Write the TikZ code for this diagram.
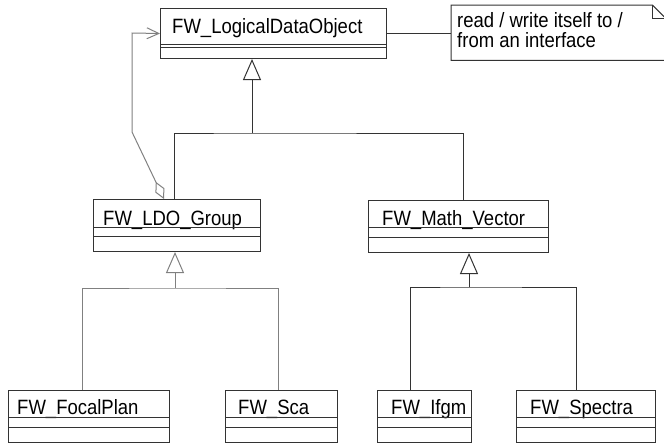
\documentclass[tikz,border=0pt]{standalone}
\usepackage{fontspec}
\usepackage{graphicx}
\setmainfont{Liberation Sans}
\usetikzlibrary{arrows.meta,calc}
% class and note texts are set slightly taller than the plain font
\newcommand\umltext[1]{\scalebox{1}[1.12]{#1}}
\begin{document}
\begin{tikzpicture}[x=1pt,y=-1pt,
  ink/.style={draw=black!80, line width=1pt},
  pale/.style={draw=black!50, line width=1pt},
  classbox/.style={ink, rectangle, inner sep=0pt, anchor=north west, minimum height=52pt},
  classname/.style={anchor=base west, inner sep=0pt, font=\fontsize{18.5}{20}\selectfont},
  gen/.style={-{Triangle[open,length=21pt,width=18pt]}},
  agg/.style={{Straight Barb[length=12pt,width=11pt]}-{Diamond[open,length=19pt,width=10pt]}},
]
\useasboundingbox (0,0) rectangle (664,445);

% ---- classes ----
\node[classbox, minimum width=226pt, minimum height=50pt] (ldo) at (160,8) {};
\node[classname] (ldoname) at (172,33) {\umltext{FW\_LogicalDataObject}};
\draw[ink] ([yshift=-36pt]ldo.north west) -- ([yshift=-36pt]ldo.north east);
\draw[ink] ([yshift=-39pt]ldo.north west) -- ([yshift=-39pt]ldo.north east);

\node[classbox, minimum width=167pt] (grp) at (93,199) {};
\node[classname] (grpname) at (103,225) {\umltext{FW\_LDO\_Group}};
\draw[ink] ([yshift=-28pt]grp.north west) -- ([yshift=-28pt]grp.north east);
\draw[ink] ([yshift=-37pt]grp.north west) -- ([yshift=-37pt]grp.north east);

\node[classbox, minimum width=180pt] (vec) at (368,200) {};
\node[classname] (vecname) at (382,225) {\umltext{FW\_Math\_Vector}};
\draw[ink] ([yshift=-27pt]vec.north west) -- ([yshift=-27pt]vec.north east);
\draw[ink] ([yshift=-37pt]vec.north west) -- ([yshift=-37pt]vec.north east);

\node[classbox, minimum width=161pt] (fp) at (8,390) {};
\node[classname] (fpname) at (17,414) {\umltext{FW\_FocalPlan}};
\node[classbox, minimum width=112pt] (sca) at (225,390) {};
\node[classname] (scaname) at (238,414) {\umltext{FW\_Sca}};
\node[classbox, minimum width=94pt] (ifgm) at (377,390) {};
\node[classname] (ifgmname) at (391,414) {\umltext{FW\_Ifgm}};
\node[classbox, minimum width=139pt] (spec) at (516,390) {};
\node[classname] (specname) at (530,414) {\umltext{FW\_Spectra}};
\foreach \c in {fp,sca,ifgm,spec} {
  \draw[ink] ([yshift=-27pt]\c.north west) -- ([yshift=-27pt]\c.north east);
  \draw[ink] ([yshift=-37pt]\c.north west) -- ([yshift=-37pt]\c.north east);
}

% ---- note ----
\node[inner sep=0pt, anchor=north west, minimum width=214pt, minimum height=55pt] (note) at (451,5) {};
\draw[ink] (note.north west) -- ([xshift=-13pt]note.north east)
  -- ([yshift=-13pt]note.north east) -- (note.south east) -- (note.south west) -- cycle;
\draw[ink] ([xshift=-13pt]note.north east) |- ([yshift=-13pt]note.north east);
\node[classname] (notel1) at (457,27) {\umltext{read / write itself to /}};
\node[classname] (notel2) at (457,47) {\umltext{from an interface}};
\draw[ink] (ldo.east) -- (note.west |- ldo.east);

% ---- generalisation to FW_LogicalDataObject ----
\coordinate (j1) at (252,133);
\draw[ink, gen] (j1) -- ([xshift=92pt]ldo.south west);
\draw[ink] ([xshift=81pt]grp.north west) |- (j1) -| ([xshift=95pt]vec.north west);

% ---- generalisation to FW_Math_Vector ----
\coordinate (j2) at (469,287);
\draw[ink, gen] (j2) -- ([xshift=101pt]vec.south west);
\draw[ink] ([xshift=33pt]ifgm.north west) |- (j2) -| ([xshift=60pt]spec.north west);

% ---- generalisation to FW_LDO_Group ----
\coordinate (j3) at (175,288);
\draw[pale, gen] (j3) -- ([xshift=82pt]grp.south west);
\draw[pale] ([xshift=74pt]fp.north west) |- (j3) -| ([xshift=53pt]sca.north west);

% ---- aggregation: group holds logical data objects ----
\coordinate (aggtop) at (132,33);
\coordinate (aggknee) at (132,132);
\draw[pale, agg] (ldo.west) -- (aggtop) -- (aggknee) -- ([xshift=71pt]grp.north west);
\end{tikzpicture}
\end{document}
